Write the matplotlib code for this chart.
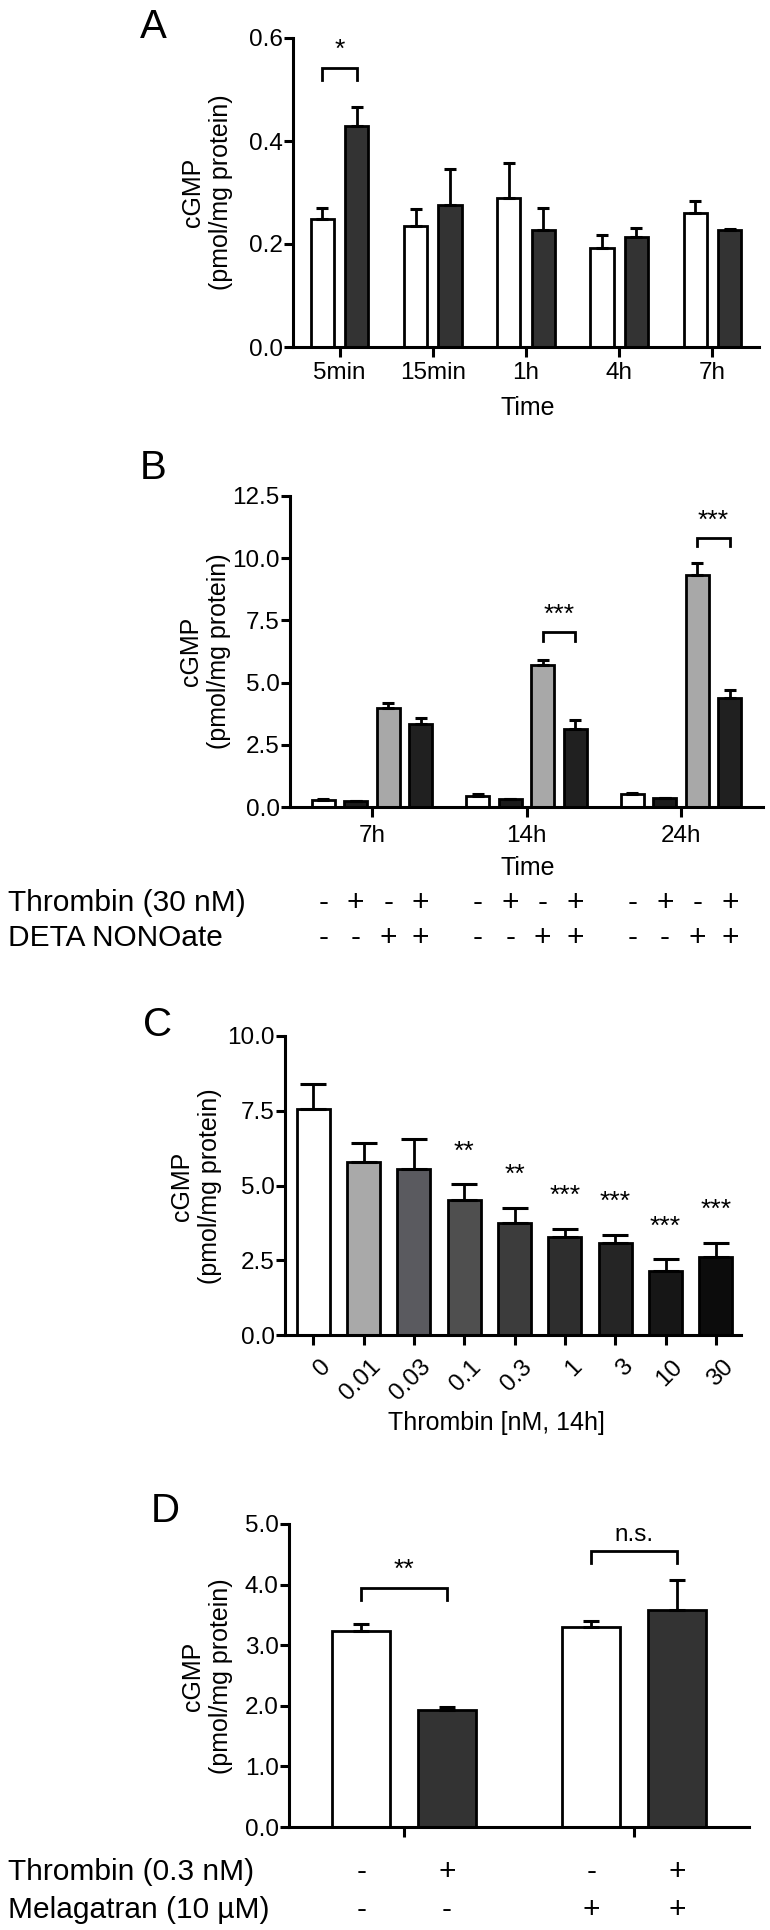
import numpy as np
import matplotlib
matplotlib.use("Agg")
import matplotlib.pyplot as plt
import matplotlib.transforms as mtransforms

plt.rcParams['font.family'] = ['Liberation Sans', 'DejaVu Sans']

# --- A : cGMP time course, control vs thrombin
a_times = ['5min', '15min', '1h', '4h', '7h']
a_ctrl = [0.248, 0.235, 0.289, 0.193, 0.261]
a_ctrl_err = [0.022, 0.032, 0.068, 0.024, 0.022]
a_thr = [0.430, 0.276, 0.227, 0.214, 0.228]
a_thr_err = [0.036, 0.069, 0.042, 0.018, 0.002]

# --- B : thrombin / DETA NONOate
b_times = ['7h', '14h', '24h']
b_ctrl = [0.29, 0.44, 0.54]
b_ctrl_err = [0.03, 0.10, 0.04]
b_thr = [0.24, 0.31, 0.35]
b_thr_err = [0.02, 0.02, 0.02]
b_deta = [3.99, 5.69, 9.31]
b_deta_err = [0.19, 0.20, 0.50]
b_both = [3.32, 3.13, 4.38]
b_both_err = [0.27, 0.38, 0.34]
b_thr_row = ['-', '+', '-', '+']
b_deta_row = ['-', '-', '+', '+']

# --- C : thrombin dose response
c_doses = ['0', '0.01', '0.03', '0.1', '0.3', '1', '3', '10', '30']
c_vals = [7.55, 5.80, 5.55, 4.52, 3.73, 3.27, 3.07, 2.14, 2.60]
c_err = [0.83, 0.61, 1.01, 0.52, 0.51, 0.27, 0.27, 0.39, 0.47]
c_sig = ['', '', '', '**', '**', '***', '***', '***', '***']
c_colors = ['white', '#a9a9a9', '#5a5a5f', '#4f4f4f', '#3c3c3c',
            '#2e2e2e', '#252525', '#161616', '#0c0c0c']

# --- D : melagatran
d_vals = [3.23, 1.93, 3.30, 3.58]
d_err = [0.12, 0.05, 0.10, 0.50]
d_thr_row = ['-', '+', '-', '+']
d_mel_row = ['-', '-', '+', '+']

W, H = 770, 1930
fig = plt.figure(figsize=(7.7, 19.3), dpi=100)

TICK = 17.5
LAB = 18
ROW = 21.5
LETTER = 29
STAR = 19


def add_ax(left, right, top, bottom):
    return fig.add_axes([left / W, 1 - bottom / H, (right - left) / W, (bottom - top) / H])


def ftext(x, y, s, **kw):
    fig.text(x / W, 1 - y / H, s, **kw)


def style(ax):
    ax.spines['top'].set_visible(False)
    ax.spines['right'].set_visible(False)
    ax.spines['left'].set_linewidth(2.2)
    ax.spines['bottom'].set_linewidth(2.2)
    ax.tick_params(axis='y', width=2.2, length=6.5, labelsize=TICK, pad=1)
    ax.tick_params(axis='x', width=2.2, length=7, labelsize=TICK, pad=4)


def bars(ax, x, vals, errs, color, width, capsize):
    ax.bar(x, vals, width, color=color, edgecolor='black', linewidth=2.0, zorder=2)
    ax.errorbar(x, vals, yerr=[np.zeros(len(vals)), errs], fmt='none', ecolor='black',
                elinewidth=2, capsize=capsize, capthick=2.2, zorder=3)


def bracket(ax, x1, x2, y_top, y_leg, label, y_text, size=STAR):
    ax.plot([x1, x1, x2, x2], [y_leg, y_top, y_top, y_leg], color='black', lw=2.0,
            solid_joinstyle='miter', clip_on=False)
    ax.text((x1 + x2) / 2, y_text, label, ha='center', va='center', fontsize=size)


ylab_kw = dict(rotation=90, ha='center', va='center', fontsize=LAB, linespacing=1.2,
               multialignment='center')
ylab = 'cGMP\n(pmol/mg protein)'

# ---------------- A
axA = add_ax(293, 759, 38, 347)
style(axA)
xa = np.arange(len(a_times))
off_a = 0.185
bars(axA, xa - off_a, a_ctrl, a_ctrl_err, 'white', 0.25, 4)
bars(axA, xa + off_a, a_thr, a_thr_err, '#333333', 0.25, 4)
axA.set_xlim(-0.5, 4.5)
axA.set_ylim(0, 0.6)
axA.set_yticks([0.0, 0.2, 0.4, 0.6])
axA.set_yticklabels(['0.0', '0.2', '0.4', '0.6'])
axA.set_xticks(xa)
axA.set_xticklabels(a_times)
bracket(axA, xa[0] - off_a, xa[0] + off_a, 0.542, 0.519, '*', 0.577)
ftext(528, 408, 'Time', ha='center', va='center', fontsize=LAB)
ftext(207, 192, ylab, **ylab_kw)
ftext(153, 27, 'A', ha='center', va='center', fontsize=LETTER)

# ---------------- B
axB = add_ax(290, 763, 496, 807)
style(axB)
xb = np.arange(len(b_times))
offs_b = [-0.315, -0.105, 0.105, 0.315]
bw = 0.15
bars(axB, xb + offs_b[0], b_ctrl, b_ctrl_err, 'white', bw, 4.5)
bars(axB, xb + offs_b[1], b_thr, b_thr_err, '#1b1b1b', bw, 4.5)
bars(axB, xb + offs_b[2], b_deta, b_deta_err, '#a8a8a8', bw, 4.5)
bars(axB, xb + offs_b[3], b_both, b_both_err, '#202020', bw, 4.5)
axB.set_xlim(-0.53, 2.53)
axB.set_ylim(0, 12.5)
axB.set_yticks(np.arange(0, 12.6, 2.5))
axB.set_yticklabels(['0.0', '2.5', '5.0', '7.5', '10.0', '12.5'])
axB.set_xticks(xb)
axB.set_xticklabels(b_times)
axB.tick_params(axis='x', pad=6)
bracket(axB, xb[1] + offs_b[2], xb[1] + offs_b[3], 7.05, 6.67, '***', 7.73)
bracket(axB, xb[2] + offs_b[2], xb[2] + offs_b[3], 10.83, 10.48, '***', 11.52)
ftext(528, 868, 'Time', ha='center', va='center', fontsize=LAB)
ftext(205, 651, ylab, **ylab_kw)
ftext(153, 468, 'B', ha='center', va='center', fontsize=LETTER)

trB = mtransforms.blended_transform_factory(axB.transData, fig.transFigure)
ftext(8, 903, 'Thrombin (30 nM)', ha='left', va='center', fontsize=ROW)
ftext(8, 938, 'DETA NONOate', ha='left', va='center', fontsize=ROW)
for g in xb:
    for k in range(4):
        axB.text(g + offs_b[k], 1 - 903 / H, b_thr_row[k], transform=trB,
                 ha='center', va='center', fontsize=ROW)
        axB.text(g + offs_b[k], 1 - 938 / H, b_deta_row[k], transform=trB,
                 ha='center', va='center', fontsize=ROW)

# ---------------- C
axC = add_ax(285, 741, 1036, 1335)
style(axC)
xc = np.arange(len(c_doses))
axC.bar(xc, c_vals, 0.66, color=c_colors, edgecolor='black', linewidth=2.0, zorder=2)
axC.errorbar(xc, c_vals, yerr=[np.zeros(len(c_vals)), c_err], fmt='none', ecolor='black',
             elinewidth=2, capsize=9.5, capthick=2.2, zorder=3)
for i, s in enumerate(c_sig):
    if s:
        axC.text(xc[i], c_vals[i] + c_err[i] + 1.1, s, ha='center', va='center', fontsize=STAR)
axC.set_xlim(-0.56, 8.5)
axC.set_ylim(0, 10)
axC.set_yticks(np.arange(0, 10.1, 2.5))
axC.set_yticklabels(['0.0', '2.5', '5.0', '7.5', '10.0'])
axC.set_xticks(xc)
axC.set_xticklabels(c_doses, rotation=45, ha='right', va='top', rotation_mode='anchor')
axC.tick_params(axis='x', pad=8)
shift = mtransforms.ScaledTranslation(6 / 100, 0, fig.dpi_scale_trans)
for lbl in axC.get_xticklabels():
    lbl.set_transform(lbl.get_transform() + shift)
ftext(496, 1423, 'Thrombin [nM, 14h]', ha='center', va='center', fontsize=LAB)
ftext(196, 1186, ylab, **ylab_kw)
ftext(158, 1025, 'C', ha='center', va='center', fontsize=LETTER)

# ---------------- D
axD = add_ax(289, 749, 1524, 1827)
style(axD)
xd = np.array([0, 0, 1, 1]) + np.array([-0.186, 0.186, -0.186, 0.186])
d_colors = ['white', '#333333', 'white', '#333333']
bars(axD, xd, d_vals, d_err, d_colors, 0.25, 6)
axD.set_xlim(-0.5, 1.5)
axD.set_ylim(0, 5)
axD.set_yticks(np.arange(0, 5.1, 1.0))
axD.set_yticklabels(['0.0', '1.0', '2.0', '3.0', '4.0', '5.0'])
axD.set_xticks([0, 1])
axD.set_xticklabels([])
bracket(axD, xd[0], xd[1], 3.95, 3.75, '**', 4.24)
bracket(axD, xd[2], xd[3], 4.55, 4.35, 'n.s.', 4.82, size=TICK)
ftext(207, 1676, ylab, **ylab_kw)
ftext(165, 1511, 'D', ha='center', va='center', fontsize=LETTER)

trD = mtransforms.blended_transform_factory(axD.transData, fig.transFigure)
ftext(8, 1872, 'Thrombin (0.3 nM)', ha='left', va='center', fontsize=ROW)
ftext(8, 1910, 'Melagatran (10 µM)', ha='left', va='center', fontsize=ROW)
for k in range(4):
    axD.text(xd[k], 1 - 1872 / H, d_thr_row[k], transform=trD,
             ha='center', va='center', fontsize=ROW)
    axD.text(xd[k], 1 - 1910 / H, d_mel_row[k], transform=trD,
             ha='center', va='center', fontsize=ROW)

fig.savefig('out.png', dpi=100, facecolor='white')
